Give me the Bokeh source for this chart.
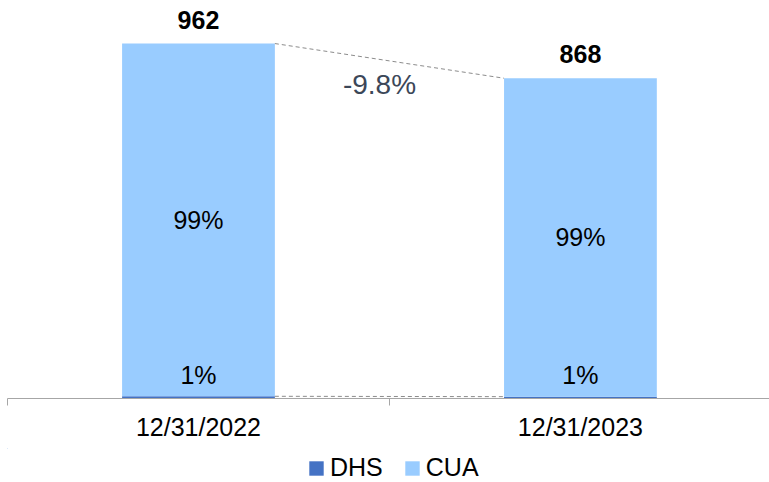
from bokeh.plotting import figure
from bokeh.layouts import column
from bokeh.models import Range1d, FixedTicker, ColumnDataSource, Legend, LegendItem
from bokeh.core.properties import value
from bokeh.embed import file_html
from bokeh.resources import INLINE

# ---- data ----
categories = ["12/31/2022", "12/31/2023"]
series = ["DHS", "CUA"]
dhs = [6, 5]
cua = [956, 863]
colors = ["#4472C4", "#99CCFF"]

FONT = "Liberation Sans"
AXIS_COLOR = "#A6A6A6"
BAR_W = 0.4

xs = [i + 0.5 for i in range(len(categories))]
totals = [a + b for a, b in zip(dhs, cua)]

src = ColumnDataSource(dict(
    x=xs, DHS=dhs, CUA=cua, total=totals,
    total_lbl=[str(t) for t in totals],
    cua_mid=[d + c / 2 for d, c in zip(dhs, cua)],
    cua_lbl=[f"{round(c / t * 100)}%" for c, t in zip(cua, totals)],
    dhs_y=[0 for _ in dhs],
    dhs_lbl=[f"{round(d / t * 100)}%" for d, t in zip(dhs, totals)],
))

p = figure(width=769, height=448, output_backend="svg", toolbar_location=None,
           x_range=Range1d(0, 1.995), y_range=Range1d(0, 1057),
           min_border_left=7, min_border_right=0, min_border_top=8,
           min_border_bottom=50)

p.vbar_stack(series, x="x", width=BAR_W, color=colors, source=src, line_color=None)

# dashed connector lines
x0 = xs[0] + BAR_W / 2
x1 = xs[1] - BAR_W / 2
p.segment(x0=[x0, x0], y0=[totals[0], dhs[0]], x1=[x1, x1], y1=[totals[1], dhs[1]],
          line_color="#8C8C8C", line_dash="4 3", line_width=1)

# labels
p.text(x="x", y="total", text="total_lbl", source=src, text_font=value(FONT),
       text_font_size="25px", text_font_style="bold", text_align="center",
       text_baseline="middle", y_offset=-24, text_color="#000000")
p.text(x="x", y="cua_mid", text="cua_lbl", source=src, text_font=value(FONT),
       text_font_size="25px", text_align="center", text_baseline="middle",
       text_color="#000000")
p.text(x="x", y="dhs_y", text="dhs_lbl", source=src, text_font=value(FONT),
       text_font_size="25px", text_align="center", text_baseline="middle",
       y_offset=-24, text_color="#000000")

chg = (totals[1] - totals[0]) / totals[0] * 100
p.text(x=[(xs[0] + xs[1]) / 2], y=[(totals[0] + totals[1]) / 2], text=[f"{chg:.1f}%"],
       text_font=value(FONT), text_font_size="28px", text_align="center",
       text_baseline="middle", x_offset=-10, y_offset=24, text_color="#3C4758")

# axes
p.yaxis.visible = False
p.grid.visible = False
p.outline_line_color = None
xa = p.xaxis[0]
xa.ticker = FixedTicker(ticks=xs, minor_ticks=[0, 1, 2])
xa.major_label_overrides = {x: c for x, c in zip(xs, categories)}
xa.major_tick_out = 0
xa.major_tick_in = 0
xa.minor_tick_out = 7
xa.minor_tick_in = 0
xa.minor_tick_line_color = AXIS_COLOR
xa.axis_line_color = AXIS_COLOR
xa.major_label_standoff = 7
xa.major_label_text_font = FONT
xa.major_label_text_font_size = "25px"
xa.major_label_text_color = "#000000"

# ---- legend strip (separate small figure so nothing is clipped) ----
pl = figure(width=769, height=34, output_backend="svg", toolbar_location=None,
            x_range=Range1d(100, 101), y_range=Range1d(-2000, -1000),
            min_border_left=0, min_border_right=0, min_border_top=0,
            min_border_bottom=0)
leg_renderers = pl.vbar_stack(series, x="x", width=BAR_W, color=colors, source=src,
                              line_color=None)
pl.axis.visible = False
pl.grid.visible = False
pl.outline_line_color = None

legend = Legend(items=[LegendItem(label=s, renderers=[r]) for s, r in zip(series, leg_renderers)],
                location=(300, 0), orientation="horizontal",
                glyph_width=18, glyph_height=18, label_standoff=5, spacing=20,
                padding=0, margin=0, border_line_color=None, background_fill_alpha=0,
                label_text_font=FONT, label_text_font_size="25px",
                label_text_color="#000000")
pl.add_layout(legend)

layout = column(p, pl, spacing=0)
open("out.html", "w").write(file_html(layout, INLINE))
